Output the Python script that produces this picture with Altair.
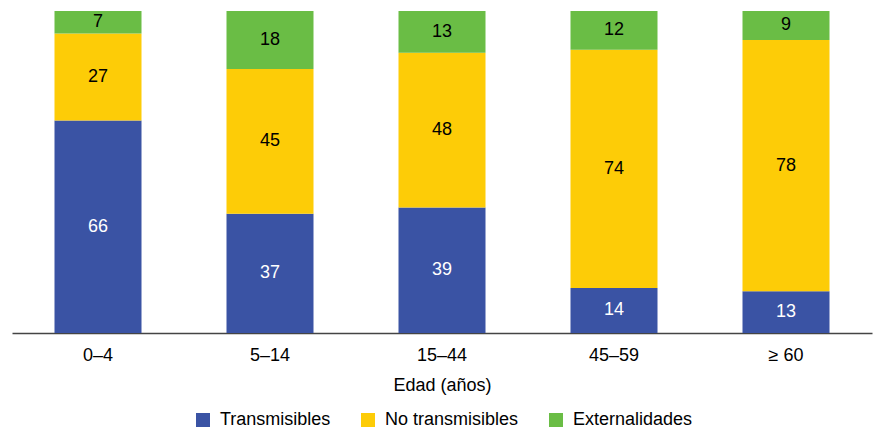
import altair as alt
import pandas as pd

grupos = ["0–4", "5–14", "15–44", "45–59", "≥ 60"]
series = ["Transmisibles", "No transmisibles", "Externalidades"]
transmisibles = [66, 37, 39, 14, 13]
no_transmisibles = [27, 45, 48, 74, 78]
externalidades = [7, 18, 13, 12, 9]
colores = ["#3A53A4", "#FDCC07", "#6ABD45"]

rows = []
for i, g in enumerate(grupos):
    for k, (s, vals) in enumerate(zip(series, [transmisibles, no_transmisibles, externalidades])):
        rows.append({"grupo": g, "serie": s, "valor": vals[i], "orden": k})
df = pd.DataFrame(rows)

FONT = "Liberation Sans"
FS = 18

base = alt.Chart(df).transform_stack(
    stack="valor", groupby=["grupo"], as_=["y0", "y1"], sort=[alt.SortField("orden", order="ascending")]
).transform_calculate(mid="(datum.y0 + datum.y1) / 2")

xaxis = alt.Axis(title="Edad (años)")
xscale = alt.Scale(paddingInner=0, paddingOuter=0)
yscale = alt.Scale(domain=[0, 100])

bars = base.mark_bar(size=87).encode(
    x=alt.X("grupo:N", sort=grupos, scale=xscale, axis=xaxis),
    y=alt.Y("y0:Q", scale=yscale, axis=None),
    y2="y1:Q",
    color=alt.Color(
        "serie:N",
        sort=series,
        scale=alt.Scale(domain=series, range=colores),
        legend=alt.Legend(
            title=None, orient="none", direction="horizontal",
            legendX=182, legendY=400,
            symbolType="square", symbolSize=196, symbolStrokeWidth=0, symbolOpacity=1,
            labelFont=FONT, labelFontSize=FS, labelColor="#000", labelOffset=8,
            columnPadding=28, labelLimit=300,
        ),
    ),
)

texts = base.mark_text(font=FONT, fontSize=FS, baseline="middle").encode(
    x=alt.X("grupo:N", sort=grupos, scale=xscale, axis=xaxis),
    y=alt.Y("mid:Q", scale=yscale, axis=None),
    text="valor:Q",
    color=alt.condition(alt.datum.serie == "Transmisibles", alt.value("white"), alt.value("black")),
)

chart = alt.layer(bars, texts).properties(
    width=860, height=322,
    autosize=alt.AutoSizeParams(type="none"),
    padding={"left": 12, "top": 11, "right": 1, "bottom": 96},
).configure_view(stroke=None).configure_axisX(
    titleFont=FONT, titleFontSize=FS, titleFontWeight="normal", titleColor="#000",
    titlePadding=12,
    labelFont=FONT, labelFontSize=FS, labelColor="#000", labelAngle=0, labelPadding=13,
    ticks=False, domainColor="#444", domainWidth=1.5, grid=False,
)

chart.save("out.html", embed_options={"renderer": "svg", "actions": False})
